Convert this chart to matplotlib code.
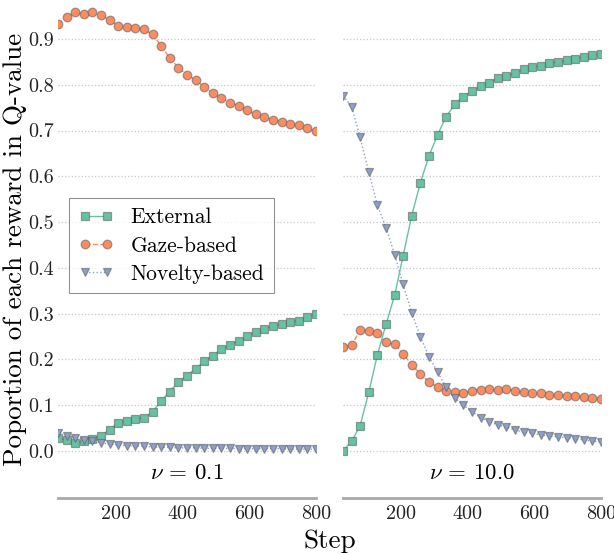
import matplotlib
matplotlib.use("Agg")
import matplotlib.pyplot as plt
from matplotlib.ticker import FixedLocator, FuncFormatter

plt.rcParams['font.family'] = ['cmr10', 'DejaVu Serif']
plt.rcParams['mathtext.fontset'] = 'cm'
plt.rcParams['axes.unicode_minus'] = False

steps = [26, 52, 77, 103, 129, 155, 181, 206, 232, 258, 284, 310, 335, 361, 387,
         413, 439, 465, 490, 516, 542, 568, 594, 619, 645, 671, 697, 723, 748, 774, 800]

# nu = 0.1
ext_01 = [0.028, 0.024, 0.018, 0.022, 0.026, 0.033, 0.047, 0.062, 0.066, 0.070,
          0.072, 0.086, 0.109, 0.130, 0.150, 0.165, 0.180, 0.196, 0.208, 0.222,
          0.232, 0.240, 0.252, 0.260, 0.267, 0.273, 0.277, 0.281, 0.285, 0.292, 0.300]
gaze_01 = [0.932, 0.948, 0.958, 0.955, 0.958, 0.952, 0.941, 0.929, 0.926, 0.923,
           0.921, 0.910, 0.885, 0.859, 0.837, 0.822, 0.810, 0.795, 0.782, 0.770,
           0.761, 0.754, 0.744, 0.735, 0.729, 0.723, 0.719, 0.715, 0.712, 0.705, 0.698]
nov_01 = [0.039, 0.033, 0.028, 0.024, 0.022, 0.018, 0.015, 0.013, 0.012, 0.011,
          0.010, 0.009, 0.008, 0.008, 0.007, 0.007, 0.007, 0.006, 0.006, 0.006,
          0.006, 0.005, 0.005, 0.005, 0.005, 0.005, 0.005, 0.004, 0.004, 0.004, 0.004]

# nu = 10.0
ext_10 = [0.000, 0.022, 0.055, 0.128, 0.210, 0.277, 0.341, 0.426, 0.514, 0.586,
          0.645, 0.691, 0.730, 0.757, 0.774, 0.786, 0.797, 0.804, 0.815, 0.819,
          0.825, 0.834, 0.838, 0.841, 0.848, 0.849, 0.853, 0.857, 0.861, 0.865, 0.867]
gaze_10 = [0.228, 0.231, 0.264, 0.263, 0.257, 0.238, 0.233, 0.213, 0.188, 0.169,
           0.150, 0.140, 0.132, 0.128, 0.127, 0.131, 0.133, 0.135, 0.133, 0.135,
           0.132, 0.128, 0.126, 0.126, 0.122, 0.122, 0.121, 0.120, 0.117, 0.115, 0.113]
nov_10 = [0.776, 0.752, 0.685, 0.610, 0.537, 0.488, 0.429, 0.364, 0.302, 0.250,
          0.206, 0.172, 0.140, 0.116, 0.100, 0.086, 0.073, 0.064, 0.057, 0.052,
          0.046, 0.041, 0.039, 0.035, 0.033, 0.031, 0.029, 0.027, 0.024, 0.022, 0.020]

panels = [(r"$\nu$ = 0.1", ext_01, gaze_01, nov_01),
          (r"$\nu$ = 10.0", ext_10, gaze_10, nov_10)]
labels = ["External", "Gaze-based", "Novelty-based"]
colors = ["#66c2a5", "#fc8d62", "#8da0cb"]
markers = ["s", "o", "v"]
lstyles = ["-", "--", ":"]
msizes = [5.5, 6.2, 5.8]
yticks = [0.0, 0.1, 0.2, 0.3, 0.4, 0.5, 0.6, 0.7, 0.8, 0.9]
xticks = [200, 400, 600, 800]

fig = plt.figure(figsize=(6.14, 5.54), dpi=100)
W, H = 614, 554
axes = [fig.add_axes([58 / W, 56 / H, 258 / W, 498 / H]),
        fig.add_axes([343 / W, 56 / H, 258 / W, 498 / H])]

for k, (ax, (title, e, g, n)) in enumerate(zip(axes, panels)):
    for vals, lab, c, m, ls, ms in zip([e, g, n], labels, colors, markers, lstyles, msizes):
        ax.plot(steps, vals, color=c, marker=m, linestyle=ls, lw=1.0, ms=ms,
                mec=(0.35, 0.35, 0.35, 0.55), mew=0.9, label=lab)
    ax.set_xlim(25.8, 800)
    ax.set_ylim(-0.1025, 0.985)
    ax.yaxis.set_major_locator(FixedLocator(yticks))
    ax.xaxis.set_major_locator(FixedLocator(xticks))
    ax.grid(axis='y', linestyle=':', color='#c8c8c8', lw=0.9)
    ax.grid(axis='x', visible=False)
    ax.set_axisbelow(True)
    for s in ['top', 'left', 'right']:
        ax.spines[s].set_visible(False)
    ax.spines['bottom'].set_color('#a8a8a8')
    ax.spines['bottom'].set_linewidth(2.0)
    ax.tick_params(axis='x', length=0, pad=5, labelsize=14.5, colors='#222222')
    ax.tick_params(axis='y', length=0, pad=3, labelsize=14.5, colors='#222222')
    ax.xaxis.set_major_formatter(FuncFormatter(lambda v, p: f"{int(v)}"))
    if k == 0:
        ax.yaxis.set_major_formatter(FuncFormatter(lambda v, p: f"{v:.1f}"))
    else:
        ax.tick_params(axis='y', labelleft=False)
    ax.text(0.5, 0.049, title, transform=ax.transAxes, ha='center', va='center',
            fontsize=16.5)

axes[0].set_ylabel("Poportion of each reward in Q-value", fontsize=19.5, labelpad=1)
leg = axes[0].legend(loc='upper left', bbox_to_anchor=(0.043, 0.602), borderaxespad=0,
                     numpoints=2, fancybox=False, frameon=True, fontsize=15.5,
                     edgecolor='#777777', handlelength=1.6, labelspacing=0.4,
                     handletextpad=0.8, borderpad=0.45)
leg.get_frame().set_linewidth(0.8)
fig.text(329.5 / W, 1 - 541 / H, "Step", ha='center', va='center', fontsize=19.5)

fig.savefig("out.png", dpi=100)
